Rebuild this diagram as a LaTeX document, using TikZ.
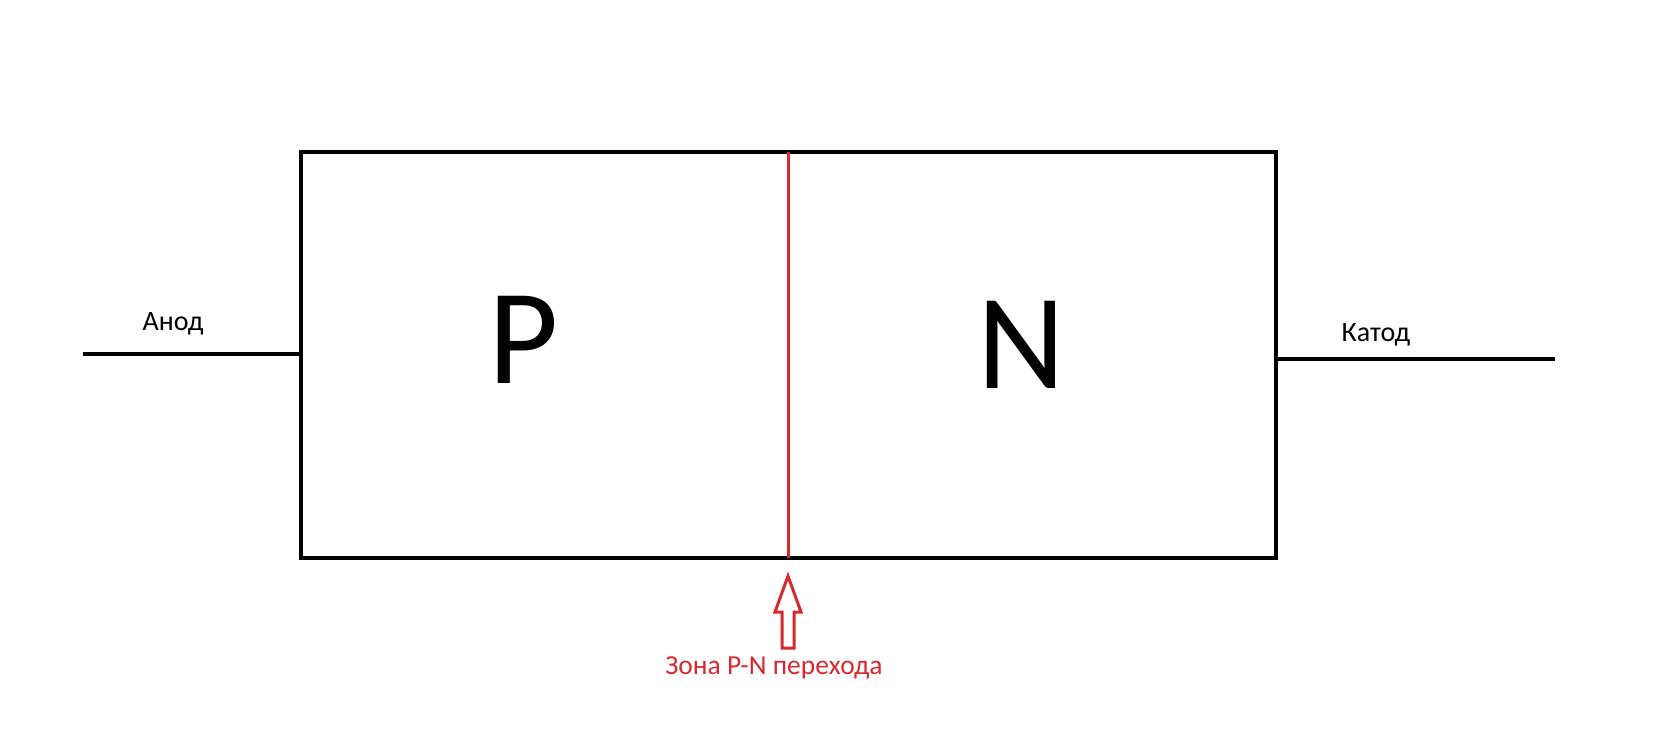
\documentclass[tikz,border=0pt]{standalone}
\usepackage{fontspec}
\setmainfont{Carlito}
\definecolor{pnred}{RGB}{214,42,48}
\begin{document}
\begin{tikzpicture}[x=1pt,y=-1pt,
  wire/.style={line width=4pt,black},
  lbl/.style={inner sep=0pt,font=\fontsize{28}{31}\selectfont},
  big/.style={inner sep=0pt,font=\fontsize{136}{140}\selectfont}]
\useasboundingbox[fill=white] (0,0) rectangle (1662,754);
\coordinate (tl) at (301,152);
\coordinate (br) at (1276,558);
\draw[wire] (tl) rectangle (br);
\coordinate (jt) at (788,152);
\coordinate (jb) at (788,558);
\draw[pnred,line width=3pt] (jt) -- (jb);
\coordinate (aend) at (83,354);
\coordinate (ain) at (301,354);
\draw[wire] (aend) -- (ain);
\coordinate (kin) at (1276,359);
\coordinate (kend) at (1555,359);
\draw[wire] (kin) -- (kend);
\node[lbl,anchor=base] (anod) at (173,330) {Анод};
\node[lbl,anchor=base] (katod) at (1376,341) {Катод};
\node[big,anchor=base] (p) at (524,383) {P};
\node[big,anchor=base] (n) at (1021,388) {N};
\draw[pnred,line width=3pt,line join=miter]
  (788,576) -- (801,612) -- (794,612) -- (794,648) -- (782,648) -- (782,612) -- (775,612) -- cycle;
\node[lbl,anchor=base,text=pnred,font=\fontsize{27.5}{30}\selectfont] (zona) at (774,674) {Зона P-N перехода};
\end{tikzpicture}
\end{document}
